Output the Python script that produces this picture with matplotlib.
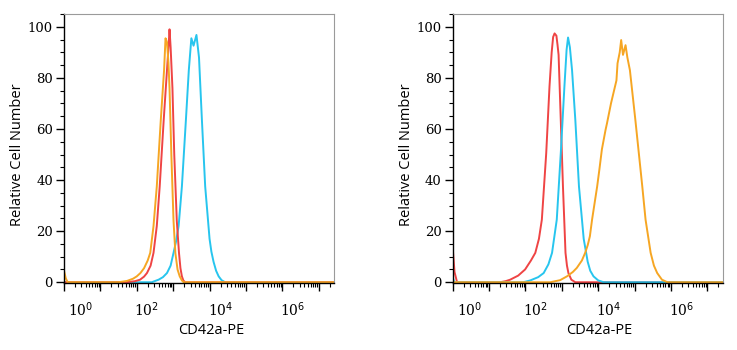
import numpy as np
import matplotlib
matplotlib.use("Agg")
import matplotlib.pyplot as plt
from matplotlib.ticker import LogLocator, NullFormatter, MultipleLocator

# ---- data (x in log10 intensity units, y = relative cell number) ----
L_orange_logx = [0, 0.05, 0.1, 1.5, 1.73, 1.9, 2.0, 2.1, 2.2, 2.3, 2.37, 2.46, 2.55, 2.66, 2.75, 2.79, 2.83, 2.87, 2.9, 2.95, 3.01, 3.06, 3.12, 3.18, 3.24, 3.29, 7.45]
L_orange_y    = [4.5, 1.5, 0, 0, 0.5, 1.4, 2.3, 3.6, 5.5, 8.5, 11.5, 22, 37.5, 63.5, 83, 95.5, 94, 86, 76, 50, 24, 11.5, 5, 2.3, 0.7, 0, 0]

L_red_logx = [0, 1.7, 1.95, 2.09, 2.2, 2.28, 2.38, 2.46, 2.55, 2.63, 2.74, 2.83, 2.88, 2.90, 2.93, 2.98, 3.03, 3.10, 3.16, 3.2, 3.24, 3.28, 3.33, 7.45]
L_red_y    = [0, 0, 0.4, 1, 2.2, 3.6, 6.5, 11.5, 22, 37.5, 63.5, 83, 94, 99, 92, 76, 50, 24, 11.5, 5.5, 2.3, 0.7, 0, 0]

L_cyan_logx = [0, 2.41, 2.6, 2.72, 2.83, 2.93, 3.01, 3.08, 3.15, 3.24, 3.35, 3.43, 3.50, 3.56, 3.64, 3.71, 3.79, 3.88, 4.0, 4.05, 4.11, 4.18, 4.25, 4.33, 4.43, 7.45]
L_cyan_y    = [0, 0, 1, 2, 3.6, 6.5, 11.5, 16, 22, 37.5, 63.5, 83, 95.5, 92.6, 96.8, 88, 63.5, 37.5, 17, 12, 8, 4.5, 2.3, 0.8, 0, 0]

R_red_logx = [0, 0.05, 0.12, 1.30, 1.45, 1.58, 1.8, 1.99, 2.15, 2.27, 2.37, 2.45, 2.57, 2.66, 2.72, 2.76, 2.80, 2.85, 2.88, 2.91, 2.97, 3.03, 3.10, 3.14, 3.18, 3.26, 3.37, 7.45]
R_red_y    = [13.5, 4, 0, 0, 0.4, 1, 2.6, 5, 8.5, 11.5, 17, 24.5, 50.5, 76.6, 90, 96, 97.4, 96.5, 93, 89, 63.5, 37.5, 11.5, 6.5, 3.6, 1, 0, 0]

R_cyan_logx = [0, 0.04, 1.94, 2.13, 2.35, 2.50, 2.63, 2.73, 2.86, 2.97, 3.07, 3.13, 3.17, 3.22, 3.28, 3.37, 3.47, 3.60, 3.71, 3.78, 3.87, 4.0, 4.15, 7.45]
R_cyan_y    = [2, 0, 0, 0.7, 2, 3.6, 7, 11.5, 24.5, 50.5, 76.6, 91, 95.8, 92, 83, 63.5, 37.5, 17, 8, 4.5, 2.3, 0.7, 0, 0]

R_orange_logx = [0, 2.68, 2.95, 3.14, 3.3, 3.41, 3.55, 3.64, 3.71, 3.77, 3.83, 3.97, 4.03, 4.1, 4.20, 4.24, 4.35, 4.50, 4.53, 4.59, 4.63, 4.68, 4.75, 4.8, 4.87, 5.02, 5.21, 5.30, 5.44, 5.53, 5.62, 5.75, 5.90, 7.45]
R_orange_y    = [0, 0, 0.8, 2.3, 4, 5.6, 8.5, 11.5, 14.5, 18, 24.5, 37.5, 44, 52, 59.6, 62.2, 70, 79, 85.7, 90, 94.8, 89, 92.8, 88, 83, 63.5, 37.5, 24.5, 11.5, 6.5, 3.6, 1, 0, 0]

y_ticks = [0, 20, 40, 60, 80, 100]
x_label_exps = [0, 2, 4, 6]
x_label_pos = [0.47, 2.27, 4.3, 6.28]

RED = "#ef4444"
ORANGE = "#f6a623"
CYAN = "#27c5ee"

fig = plt.figure(figsize=(7.37, 3.5), dpi=100)
W, H = 737, 350

panels = [
    (64, [(L_cyan_logx, L_cyan_y, CYAN), (L_red_logx, L_red_y, RED), (L_orange_logx, L_orange_y, ORANGE)]),
    (452.7, [(R_red_logx, R_red_y, RED), (R_cyan_logx, R_cyan_y, CYAN), (R_orange_logx, R_orange_y, ORANGE)]),
]

for left_px, series in panels:
    ax = fig.add_axes([left_px / W, (350 - 283) / H, 270 / W, (283 - 14) / H])
    for lx, yv, col in series:
        ax.plot(10 ** np.array(lx), yv, color=col, lw=1.4, solid_joinstyle="round")
    ax.set_xscale("log")
    ax.set_xlim(1, 10 ** 7.42)
    ax.set_ylim(-0.3, 105)
    ax.xaxis.set_major_locator(LogLocator(base=10, numticks=20))
    ax.xaxis.set_minor_locator(LogLocator(base=10, subs=np.arange(2, 10), numticks=100))
    ax.xaxis.set_major_formatter(NullFormatter())
    ax.xaxis.set_minor_formatter(NullFormatter())
    ax.set_yticks(y_ticks)
    ax.yaxis.set_minor_locator(MultipleLocator(5))
    ax.set_yticklabels([str(v) for v in y_ticks], family="DejaVu Serif", fontsize=9.5)
    ax.tick_params(axis="both", which="major", direction="out", length=6, width=1.0, color="black")
    ax.tick_params(axis="both", which="minor", direction="out", length=3, width=0.8, color="black")
    ax.tick_params(axis="y", pad=2)
    for s in ("top", "right"):
        ax.spines[s].set_color("#9a9a9a")
        ax.spines[s].set_linewidth(0.8)
    for s in ("left", "bottom"):
        ax.spines[s].set_color("black")
        ax.spines[s].set_linewidth(1.0)
    for e, p in zip(x_label_exps, x_label_pos):
        ax.text(10 ** p, -0.1, r"$\mathregular{10}^{%d}$" % e, transform=ax.get_xaxis_transform(),
                ha="center", va="center", family="DejaVu Serif", fontsize=10)
    fig.text((left_px + 147) / W, 1 - 331 / H, "CD42a-PE", ha="center", va="center",
             family="Open Sans", fontsize=10.5)
    fig.text((left_px - 46) / W, 1 - 155 / H, "Relative Cell Number", ha="center", va="center",
             rotation=90, family="Open Sans", fontsize=10.5)

fig.savefig("out.png", dpi=100)
